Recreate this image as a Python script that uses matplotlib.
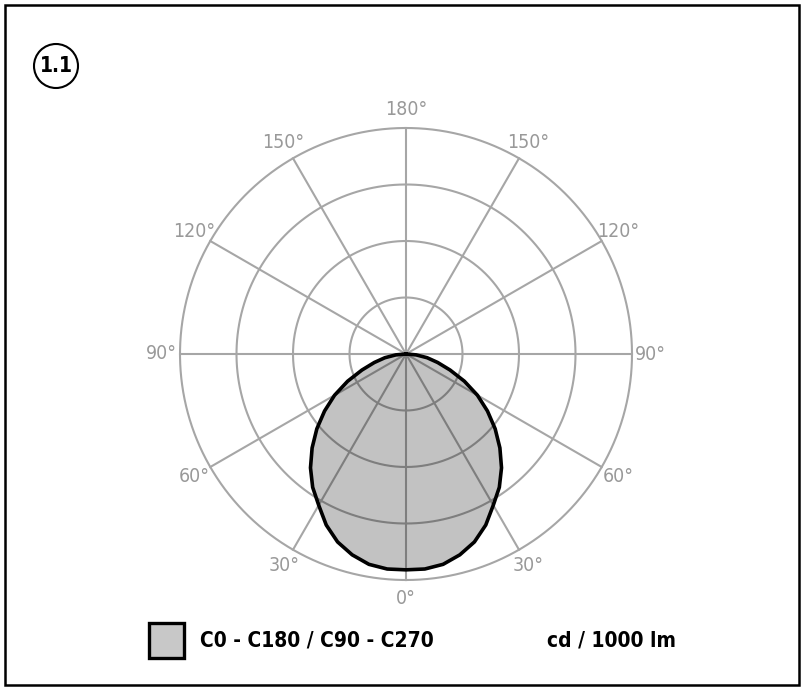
import os
import matplotlib.pyplot as plt
from matplotlib import font_manager as fm
from matplotlib.patches import Rectangle, Ellipse
import numpy as np

# Угол от надира (градусы) и сила света, cd/1000 lm (в делениях сетки)
angles = [0, 5, 10, 15, 20, 25, 30, 35, 40, 45, 50, 55, 60, 65, 70, 75, 80, 85, 90]
values = [3.82, 3.82, 3.78, 3.68, 3.54, 3.34, 3.09, 2.88, 2.63, 2.35, 2.06,
          1.76, 1.46, 1.14, 0.83, 0.58, 0.38, 0.18, 0.0]

ring_values = [1, 2, 3, 4]
spoke_angles = [0, 30, 60, 90, 120, 150, 180, 210, 240, 270, 300, 330]
spoke_labels = ['0°', '30°', '60°', '90°', '120°', '150°', '180°',
                '150°', '120°', '90°', '60°', '30°']

legend_label = 'C0 - C180 / C90 - C270'
unit_label = 'cd / 1000 lm'
diagram_id = '1.1'

grid_col = '#a6a6a6'


# Ищем узкий шрифт среди установленных
def pick_font(names, **fallback):
    files = {os.path.basename(f.fname).lower(): f.fname for f in fm.fontManager.ttflist}
    for n in names:
        if n.lower() in files:
            return fm.FontProperties(fname=files[n.lower()])
    return fm.FontProperties(family='DejaVu Sans', stretch='condensed', **fallback)


font_label = pick_font(['NotoSans-ExtraCondensedMedium.ttf',
                        'NotoSans-CondensedMedium.ttf',
                        'LiberationSansNarrow-Regular.ttf',
                        'DejaVuSansCondensed.ttf'])
font_bold = pick_font(['NotoSans-ExtraCondensedSemiBold.ttf',
                       'NotoSans-CondensedSemiBold.ttf',
                       'LiberationSansNarrow-Bold.ttf',
                       'DejaVuSansCondensed-Bold.ttf'], weight='bold')

fig = plt.figure(figsize=(8.04, 6.9), dpi=100)

# Рамка вокруг всего рисунка
fig.add_artist(Rectangle((5 / 804, 5 / 690), 794 / 804, 680 / 690,
                         transform=fig.transFigure, fill=False,
                         edgecolor='black', linewidth=1.8))

ax = fig.add_axes([180 / 804, 110 / 690, 452 / 804, 452 / 690],
                  projection='polar')
ax.set_theta_zero_location('S')
ax.set_ylim(0, 4)
ax.grid(False)
ax.set_xticks([])
ax.set_yticks([])
ax.spines['polar'].set_visible(False)

# Сетка: окружности и лучи
t = np.linspace(0, 2 * np.pi, 400)
for r in ring_values:
    ax.plot(t, np.full_like(t, r), color=grid_col, lw=1.5, zorder=1, clip_on=False)
for a in spoke_angles:
    ax.plot([np.radians(a)] * 2, [0, 4], color=grid_col, lw=1.5, zorder=1, clip_on=False)

# Подписи углов
for a, lab in zip(spoke_angles, spoke_labels):
    ax.text(np.radians(a), 4.33, lab, ha='center', va='center',
            fontproperties=font_label, fontsize=14, color='#999999', clip_on=False)

# Кривая (симметричная C0-C180 / C90-C270)
ang = np.array(angles, dtype=float)
val = np.array(values)
full_ang = np.concatenate([-ang[::-1], ang[1:]])
full_val = np.concatenate([val[::-1], val[1:]])
th = np.radians(full_ang)
ax.fill(th, full_val, color='black', alpha=0.24, lw=0, zorder=2)
ax.plot(th, full_val, color='black', lw=2.6, zorder=3, solid_joinstyle='round')

# Номер диаграммы в кружке
fig.add_artist(Ellipse((56 / 804, 1 - 66 / 690), 44 / 804, 44 / 690,
                       transform=fig.transFigure, fill=False,
                       edgecolor='black', lw=1.5))
fig.text(56 / 804, 1 - 66 / 690, diagram_id, ha='center', va='center',
         fontproperties=font_bold, fontsize=15)

# Легенда
fig.add_artist(Rectangle((149 / 804, 1 - 658 / 690), 35 / 804, 35 / 690,
                         transform=fig.transFigure, facecolor='#c8c8c8',
                         edgecolor='black', lw=2.4))
fig.text(200 / 804, 1 - 640 / 690, legend_label, ha='left', va='center',
         fontproperties=font_bold, fontsize=15)
fig.text(612 / 804, 1 - 640 / 690, unit_label, ha='center', va='center',
         fontproperties=font_bold, fontsize=15)

fig.savefig('out.png', dpi=100)
